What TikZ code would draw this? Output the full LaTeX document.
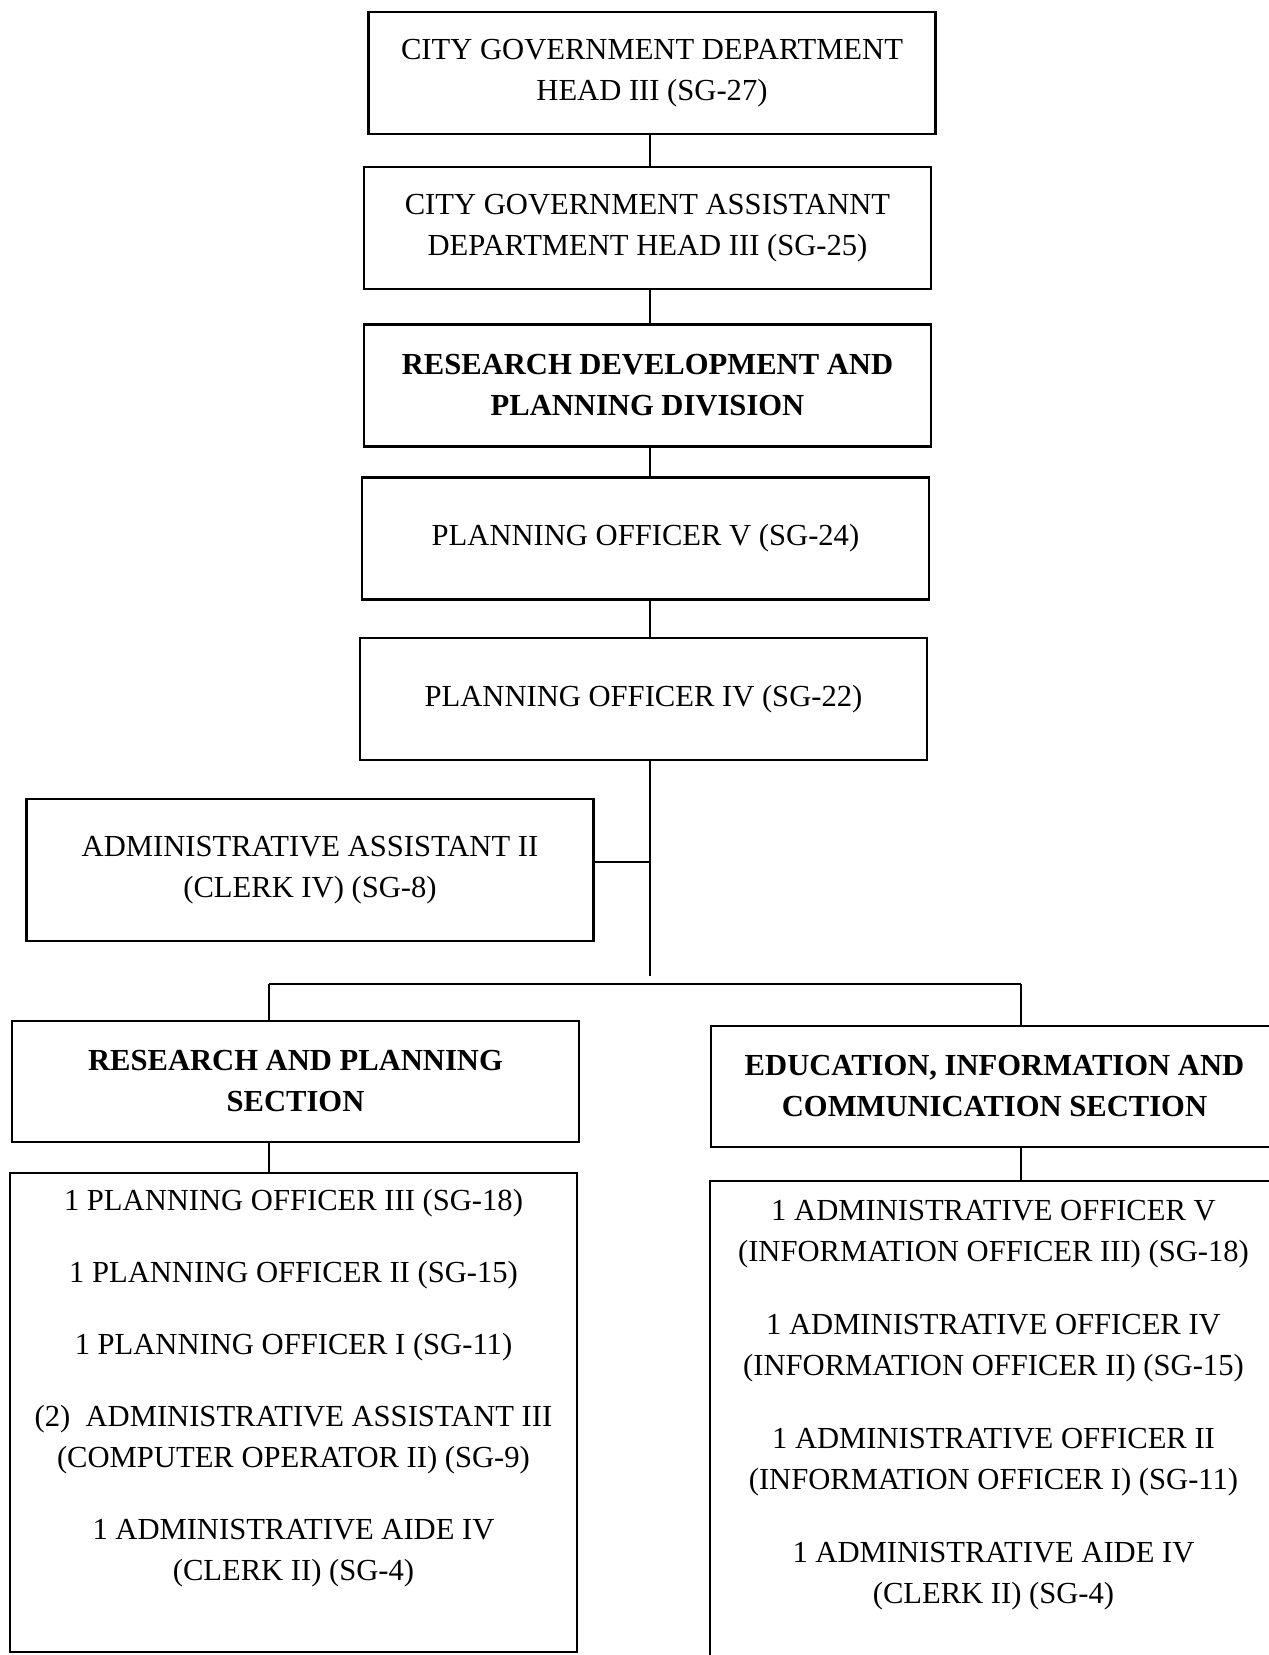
\documentclass[tikz,border=0pt]{standalone}
\usepackage{fontspec}
\setmainfont{Liberation Serif}
\usetikzlibrary{positioning}
\begin{document}
\begin{tikzpicture}[x=0.5pt, y=-0.5pt,
  box/.style={draw, line width=1.2pt, minimum width=283.5pt, minimum height=61pt, align=center, inner sep=0pt, font=\fontsize{15.3}{20.5}\selectfont},
  listbox/.style={draw, line width=1.2pt, minimum width=283.5pt, inner sep=0pt},
  listtext/.style={align=center, inner sep=0pt, font=\fontsize{15.3}{20.5}\selectfont},
  link/.style={line width=1pt}]
\useasboundingbox (0,0) rectangle (1269,1655);
\clip (0,0) rectangle (1269,1655);
\coordinate (spine) at (650,0);
\node[box] (b1) at (652,73) {CITY GOVERNMENT DEPARTMENT\\HEAD III (SG-27)};
\node[box] (b2) at (647.5,228) {CITY GOVERNMENT ASSISTANNT\\DEPARTMENT HEAD III (SG-25)};
\node[box, font=\fontsize{15.3}{20.5}\selectfont\bfseries] (b3) at (647.5,385.5) {RESEARCH DEVELOPMENT AND\\PLANNING DIVISION};
\node[box] (b4) at (645.5,538.5) {PLANNING OFFICER V (SG-24)};
\node[box] (b5) at (643.5,699) {PLANNING OFFICER IV (SG-22)};
\foreach \a/\b in {b1/b2,b2/b3,b3/b4,b4/b5}
  \draw[link] (\a.south -| spine) -- (\b.north -| spine);
\node[box, minimum height=71pt] (admin) at (310,870) {ADMINISTRATIVE ASSISTANT II\\(CLERK IV) (SG-8)};
\coordinate (spineend) at (650,976);
\coordinate (barL) at (269,984);
\coordinate (barR) at (1021,984);
\draw[link] (b5.south -| spine) -- (spineend);
\draw[link] ([yshift=4pt]admin.east) -- ([yshift=4pt]admin.east -| spine);
\draw[link] (barL) -- (barR);
\node[box, minimum height=60.5pt, font=\fontsize{15.3}{20.5}\selectfont\bfseries] (lsec) at (295.5,1081.5) {RESEARCH AND PLANNING\\SECTION};
\node[box, minimum height=60.5pt, font=\fontsize{15.3}{20.5}\selectfont\bfseries] (rsec) at (994.5,1086.5) {EDUCATION, INFORMATION AND\\COMMUNICATION SECTION};
\draw[link] (barL) -- (barL |- lsec.north);
\draw[link] (barR) -- (barR |- rsec.north);
\node[listbox, minimum height=239.5pt] (llist) at (293.5,1412.5) {};
\node[listbox, minimum height=250pt] (rlist) at (993.5,1431) {};
\draw[link] (lsec.south -| barL) -- (llist.north -| barL);
\draw[link] (rsec.south -| barR) -- (rlist.north -| barR);
\node[listtext, below=8.5pt of llist.north] (llisttext) {1 PLANNING OFFICER III (SG-18)\\[15.5pt]
  1 PLANNING OFFICER II (SG-15)\\[15.5pt]
  1 PLANNING OFFICER I (SG-11)\\[15.5pt]
  (2)~~ADMINISTRATIVE ASSISTANT III\\(COMPUTER OPERATOR II) (SG-9)\\[15.5pt]
  1 ADMINISTRATIVE AIDE IV\\(CLERK II) (SG-4)};
\node[listtext, below=10pt of rlist.north] (rlisttext) {1 ADMINISTRATIVE OFFICER V\\(INFORMATION OFFICER III) (SG-18)\\[16pt]
  1 ADMINISTRATIVE OFFICER IV\\(INFORMATION OFFICER II) (SG-15)\\[16pt]
  1 ADMINISTRATIVE OFFICER II\\(INFORMATION OFFICER I) (SG-11)\\[16pt]
  1 ADMINISTRATIVE AIDE IV\\(CLERK II) (SG-4)};
\end{tikzpicture}
\end{document}
